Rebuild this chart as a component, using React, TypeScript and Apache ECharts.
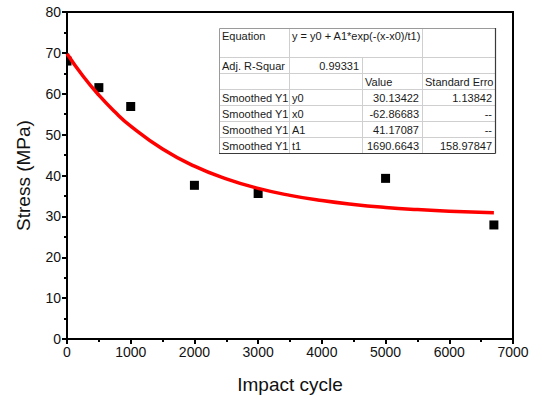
import React, { useEffect, useRef } from "react";
import * as echarts from "echarts";

// Measured stress at each impact cycle count
const cycles = [0, 500, 1000, 2000, 3000, 5000, 6700];
const stress = [68.0, 61.5, 56.9, 37.6, 35.6, 39.3, 27.9];

// Exponential-decay fit curve, sampled along the cycle axis
const fitCycles = [0, 250, 500, 750, 1000, 1500, 2000, 2500, 3000, 3500, 4000, 4500, 5000, 5500, 6000, 6700];
const fitStress = [69.8, 64.35, 59.65, 55.59, 52.09, 46.47, 42.29, 39.18, 36.86, 35.14, 33.86, 32.9, 32.19, 31.67, 31.27, 30.89];

// Fit report table
const tableRows: string[][] = [
  ["Equation", "y = y0 + A1*exp(-(x-x0)/t1)", "", ""],
  ["Adj. R-Squar", "0.99331", "", ""],
  ["", "", "Value", "Standard Erro"],
  ["Smoothed Y1", "y0", "30.13422", "1.13842"],
  ["Smoothed Y1", "x0", "-62.86683", "--"],
  ["Smoothed Y1", "A1", "41.17087", "--"],
  ["Smoothed Y1", "t1", "1690.6643", "158.97847"],
];

const FONT = "'Liberation Sans', Arial, sans-serif";

function buildTable(): any[] {
  const cols = [219, 289, 362, 422, 495];
  const rows = [28, 57, 73, 89, 105, 121, 137, 153];
  const els: any[] = [];
  els.push({ type: "rect", shape: { x: cols[0], y: rows[0], width: cols[4] - cols[0], height: rows[7] - rows[0] }, style: { fill: "#fff" }, z: 10 });
  const inner = "#cfcfcf";
  for (let i = 1; i < rows.length - 1; i++) {
    els.push({ type: "line", shape: { x1: cols[0], y1: rows[i] + 0.5, x2: cols[4], y2: rows[i] + 0.5 }, style: { stroke: inner, lineWidth: 1 }, z: 11 });
  }
  els.push({ type: "line", shape: { x1: cols[1] + 0.5, y1: rows[0], x2: cols[1] + 0.5, y2: rows[7] }, style: { stroke: inner, lineWidth: 1 }, z: 11 });
  els.push({ type: "line", shape: { x1: cols[2] + 0.5, y1: rows[1], x2: cols[2] + 0.5, y2: rows[7] }, style: { stroke: inner, lineWidth: 1 }, z: 11 });
  els.push({ type: "line", shape: { x1: cols[3] + 0.5, y1: rows[0], x2: cols[3] + 0.5, y2: rows[7] }, style: { stroke: inner, lineWidth: 1 }, z: 11 });
  // outer frame: lighter top/left, darker right/bottom
  els.push({ type: "line", shape: { x1: cols[0] + 0.5, y1: rows[0] + 0.5, x2: cols[4], y2: rows[0] + 0.5 }, style: { stroke: "#9a9a9a", lineWidth: 1 }, z: 12 });
  els.push({ type: "line", shape: { x1: cols[0] + 0.5, y1: rows[0] + 0.5, x2: cols[0] + 0.5, y2: rows[7] }, style: { stroke: "#9a9a9a", lineWidth: 1 }, z: 12 });
  els.push({ type: "line", shape: { x1: cols[4] + 0.5, y1: rows[0], x2: cols[4] + 0.5, y2: rows[7] + 0.5 }, style: { stroke: "#3a3a3a", lineWidth: 1.2 }, z: 12 });
  els.push({ type: "line", shape: { x1: cols[0], y1: rows[7] + 0.5, x2: cols[4] + 0.5, y2: rows[7] + 0.5 }, style: { stroke: "#3a3a3a", lineWidth: 1.2 }, z: 12 });

  tableRows.forEach((row, r) => {
    row.forEach((txt, c) => {
      if (!txt) return;
      const rightAlign = (r === 1 && c === 1) || (r >= 3 && c >= 2);
      const yMid = r === 0 ? rows[0] + 8 : (rows[r] + rows[r + 1]) / 2 + 0.5;
      els.push({
        type: "text",
        x: rightAlign ? cols[c + 1] - 3 : cols[c] + 3,
        y: yMid,
        style: { text: txt, fill: "#1a1a1a", font: `11px ${FONT}`, align: rightAlign ? "right" : "left", verticalAlign: "middle" },
        z: 13,
      });
    });
  });
  return els;
}

export default function App() {
  const ref = useRef<HTMLDivElement>(null);
  useEffect(() => {
    if (!ref.current) return;
    const chart = echarts.init(ref.current, null, { renderer: "svg" });
    const axisLabel = { color: "#111", fontSize: 14, fontFamily: FONT, formatter: (v: number) => String(v) };
    const nameStyle = { color: "#111", fontSize: 19, fontFamily: FONT };
    chart.setOption({
      animation: false,
      backgroundColor: "#fff",
      grid: { left: 67, right: 27, top: 12, bottom: 62, show: true, borderColor: "#000", borderWidth: 2, backgroundColor: "transparent" },
      xAxis: {
        type: "value", min: 0, max: 7000, interval: 1000,
        name: "Impact cycle", nameLocation: "middle", nameGap: 36, nameTextStyle: nameStyle,
        axisLine: { show: true, lineStyle: { color: "#000", width: 2 } },
        axisTick: { show: true, length: 5, lineStyle: { color: "#000", width: 2 } },
        minorTick: { show: true, splitNumber: 2, length: 3, lineStyle: { color: "#000", width: 2 } },
        splitLine: { show: false },
        axisLabel: { ...axisLabel, margin: 6 },
      },
      yAxis: {
        type: "value", min: 0, max: 80, interval: 10,
        name: "Stress (MPa)", nameLocation: "middle", nameGap: 34, nameTextStyle: nameStyle,
        axisLine: { show: true, lineStyle: { color: "#000", width: 2 } },
        axisTick: { show: true, length: 5, lineStyle: { color: "#000", width: 2 } },
        minorTick: { show: true, splitNumber: 2, length: 3, lineStyle: { color: "#000", width: 2 } },
        splitLine: { show: false },
        axisLabel: { ...axisLabel, margin: 6 },
      },
      series: [
        {
          type: "custom",
          data: cycles.map((c, i) => [c, stress[i]]),
          z: 2,
          renderItem: (params: any, api: any) => {
            const p = api.coord([api.value(0), api.value(1)]);
            const s = 9;
            const cs = params.coordSys;
            const shape = echarts.graphic.clipRectByRect(
              { x: p[0] - s / 2, y: p[1] - s / 2, width: s, height: s },
              { x: cs.x + 1, y: cs.y, width: cs.width, height: cs.height }
            );
            return shape ? { type: "rect", shape, style: { fill: "#000" } } : null;
          },
        },
        {
          type: "line",
          data: fitCycles.map((c, i) => [c, fitStress[i]]),
          smooth: true,
          showSymbol: false,
          z: 3,
          lineStyle: { color: "#ff0000", width: 3.5 },
        },
      ],
      graphic: buildTable(),
    });
    return () => chart.dispose();
  }, []);
  return <div ref={ref} style={{ position: "fixed", left: 0, top: 0, width: 540, height: 401 }} />;
}
